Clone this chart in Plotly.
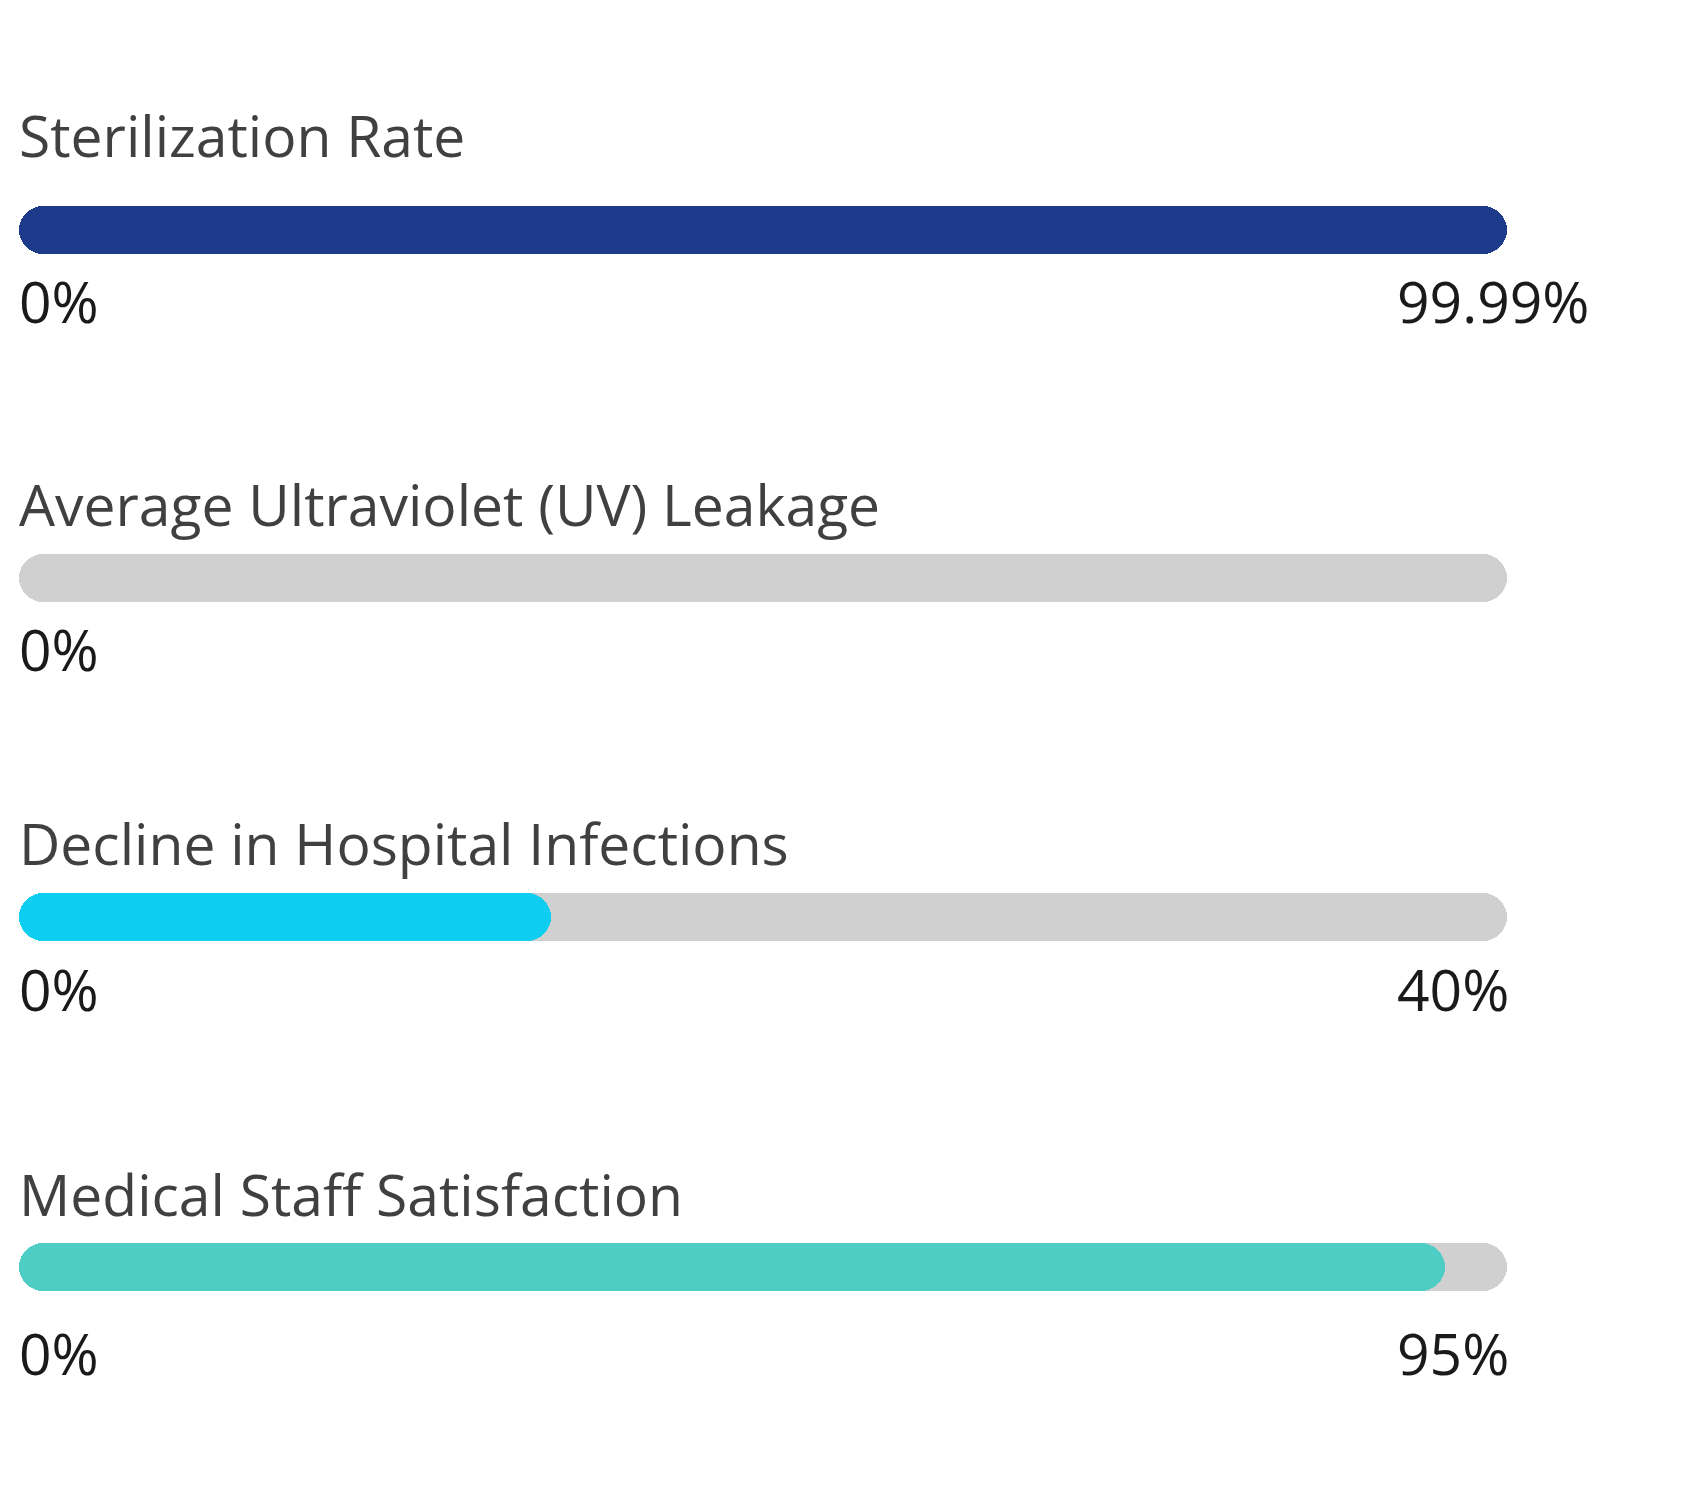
import plotly.graph_objects as go

# ---- data ----
metrics = ["Sterilization Rate", "Average Ultraviolet (UV) Leakage",
           "Decline in Hospital Infections", "Medical Staff Satisfaction"]
value_labels = ["99.99%", "0%", "40%", "95%"]          # printed end values
start_labels = ["0%", "0%", "0%", "0%"]
show_end_label = [True, False, True, True]
bar_fill = [99.99, 0, 35.75, 95.8]                      # drawn fill length (% of track)
fill_colors = ["#1E3A8A", "#D0D0D0", "#0DCDF0", "#4ECDC4"]

# ---- layout constants (pixels) ----
W, H = 1703, 1510
TRACK_L, TRACK_R = 19, 1507
TEXT_X = 17
BAR_H = 48
row_center = [230, 578, 917, 1267]
title_y = [135, 504, 843, 1194]
label_y = [301, 649, 989, 1353]
RIGHT_LABEL_X = 1395

TRACK_COLOR = "#D0D0D0"
TITLE_COLOR = "#404040"
LABEL_COLOR = "#1A1A1A"
FONT = "Open Sans"

fig = go.Figure()


def add_capsule(yc, length, color):
    if length <= 0:
        return
    fig.add_trace(go.Bar(
        orientation="h", y=[yc], x=[length], base=[0],
        width=BAR_H, marker=dict(color=color, cornerradius=BAR_H / 2, line=dict(width=0)),
        hoverinfo="skip", showlegend=False,
    ))


for i, name in enumerate(metrics):
    add_capsule(row_center[i], 100, TRACK_COLOR)
    add_capsule(row_center[i], bar_fill[i], fill_colors[i])

annotations = []
for i, name in enumerate(metrics):
    annotations.append(dict(
        text=name, xref="paper", yref="y", x=TEXT_X / W, y=title_y[i],
        xanchor="left", yanchor="middle", showarrow=False,
        font=dict(family=FONT, size=57, color=TITLE_COLOR)))
    annotations.append(dict(
        text=start_labels[i], xref="paper", yref="y", x=TEXT_X / W, y=label_y[i],
        xanchor="left", yanchor="middle", showarrow=False,
        font=dict(family=FONT, size=57, color=LABEL_COLOR)))
    if show_end_label[i]:
        annotations.append(dict(
            text=value_labels[i], xref="paper", yref="y", x=RIGHT_LABEL_X / W, y=label_y[i],
            xanchor="left", yanchor="middle", showarrow=False,
            font=dict(family=FONT, size=57, color=LABEL_COLOR)))

fig.update_layout(
    width=W, height=H,
    margin=dict(l=0, r=0, t=0, b=0),
    paper_bgcolor="white", plot_bgcolor="white",
    barmode="overlay", bargap=0,
    xaxis=dict(domain=[TRACK_L / W, TRACK_R / W], range=[0, 100], visible=False, fixedrange=True),
    yaxis=dict(domain=[0, 1], range=[H, 0], visible=False, fixedrange=True),
    annotations=annotations,
    showlegend=False,
)

fig.write_html("out.html", config={"displayModeBar": False},
               post_script="document.body.style.margin='0';document.body.style.overflow='hidden';")
